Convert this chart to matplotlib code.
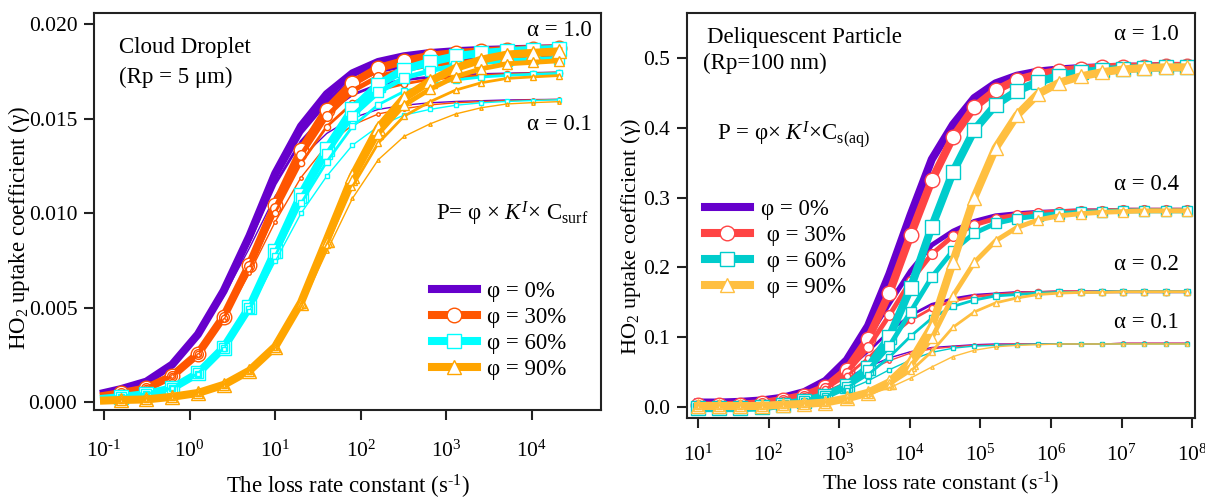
import numpy as np
import matplotlib.pyplot as plt

plt.rcParams['font.family'] = ['Liberation Serif', 'DejaVu Serif']
plt.rcParams['mathtext.fontset'] = 'custom'
plt.rcParams['mathtext.rm'] = 'Liberation Serif'
plt.rcParams['mathtext.it'] = 'Liberation Serif:italic'
plt.rcParams['mathtext.bf'] = 'Liberation Serif:bold'

# ---------------- cloud droplet (left) ----------------
x_cd = [0.1, 0.15625, 0.3125, 0.625, 1.25, 2.5, 5, 10, 20, 40, 80, 160, 320, 640,
        1280, 2560, 5120, 10240, 20480]

cd_p0_a10 = [0.00050, 0.00070, 0.00110, 0.00200, 0.00360, 0.00590, 0.00880, 0.01210, 0.01460, 0.01630,
             0.01740, 0.01800, 0.01830, 0.01847, 0.01857, 0.01863, 0.01867, 0.01870, 0.01872]
cd_p0_a04 = [0.00050, 0.00070, 0.00110, 0.00199, 0.00358, 0.00585, 0.00869, 0.01189, 0.01429, 0.01591,
             0.01696, 0.01753, 0.01781, 0.01797, 0.01807, 0.01812, 0.01816, 0.01819, 0.01821]
cd_p0_a02 = [0.00050, 0.00070, 0.00110, 0.00198, 0.00355, 0.00576, 0.00850, 0.01154, 0.01380, 0.01530,
             0.01627, 0.01679, 0.01705, 0.01720, 0.01729, 0.01734, 0.01737, 0.01740, 0.01742]
cd_p0_a01 = [0.00050, 0.00070, 0.00109, 0.00197, 0.00349, 0.00560, 0.00816, 0.01091, 0.01291, 0.01422,
             0.01504, 0.01549, 0.01571, 0.01584, 0.01591, 0.01595, 0.01599, 0.01601, 0.01602]

cd_p30_a10 = [0.00035, 0.00049, 0.00075, 0.00140, 0.00257, 0.00454, 0.00728, 0.01045, 0.01332, 0.01548,
              0.01689, 0.01768, 0.01805, 0.01833, 0.01847, 0.01856, 0.01863, 0.01868, 0.01872]
cd_p30_a04 = [0.00035, 0.00049, 0.00075, 0.00140, 0.00256, 0.00451, 0.00720, 0.01029, 0.01306, 0.01513,
              0.01647, 0.01722, 0.01758, 0.01784, 0.01797, 0.01806, 0.01812, 0.01817, 0.01821]
cd_p30_a02 = [0.00035, 0.00049, 0.00075, 0.00139, 0.00254, 0.00446, 0.00707, 0.01003, 0.01265, 0.01458,
              0.01582, 0.01651, 0.01684, 0.01708, 0.01720, 0.01728, 0.01734, 0.01738, 0.01742]
cd_p30_a01 = [0.00035, 0.00049, 0.00075, 0.00138, 0.00251, 0.00436, 0.00683, 0.00955, 0.01189, 0.01359,
              0.01466, 0.01525, 0.01553, 0.01573, 0.01584, 0.01590, 0.01595, 0.01599, 0.01602]

cd_p60_a10 = [0.00020, 0.00028, 0.00045, 0.00075, 0.00154, 0.00290, 0.00504, 0.00800, 0.01098, 0.01340,
              0.01550, 0.01680, 0.01760, 0.01800, 0.01830, 0.01847, 0.01857, 0.01864, 0.01869]
cd_p60_a04 = [0.00020, 0.00028, 0.00045, 0.00075, 0.00154, 0.00289, 0.00500, 0.00791, 0.01080, 0.01314,
              0.01515, 0.01639, 0.01715, 0.01753, 0.01781, 0.01797, 0.01807, 0.01813, 0.01818]
cd_p60_a02 = [0.00020, 0.00028, 0.00045, 0.00075, 0.00153, 0.00287, 0.00494, 0.00775, 0.01052, 0.01272,
              0.01459, 0.01574, 0.01644, 0.01679, 0.01705, 0.01720, 0.01729, 0.01735, 0.01739]
cd_p60_a01 = [0.00020, 0.00028, 0.00045, 0.00075, 0.00152, 0.00283, 0.00482, 0.00746, 0.00999, 0.01196,
              0.01360, 0.01459, 0.01519, 0.01549, 0.01571, 0.01584, 0.01591, 0.01596, 0.01600]

cd_p90_a10 = [0.00010, 0.00013, 0.00016, 0.00030, 0.00050, 0.00093, 0.00168, 0.00295, 0.00528, 0.00860,
              0.01195, 0.01451, 0.01610, 0.01697, 0.01768, 0.01812, 0.01839, 0.01848, 0.01856]
cd_p90_a04 = [0.00010, 0.00013, 0.00016, 0.00030, 0.00050, 0.00093, 0.00168, 0.00294, 0.00524, 0.00849,
              0.01174, 0.01420, 0.01572, 0.01655, 0.01722, 0.01764, 0.01790, 0.01798, 0.01806]
cd_p90_a02 = [0.00010, 0.00013, 0.00016, 0.00030, 0.00050, 0.00093, 0.00167, 0.00292, 0.00517, 0.00831,
              0.01141, 0.01371, 0.01513, 0.01589, 0.01651, 0.01690, 0.01713, 0.01721, 0.01728]
cd_p90_a01 = [0.00010, 0.00013, 0.00016, 0.00030, 0.00050, 0.00092, 0.00166, 0.00287, 0.00504, 0.00798,
              0.01079, 0.01283, 0.01406, 0.01472, 0.01525, 0.01558, 0.01578, 0.01585, 0.01590]

# ---------------- deliquescent particle (right) ----------------
x_dp = [10, 20, 40, 80, 160, 320, 640, 1280, 2560, 5120, 10240, 20480, 40960, 81920, 163840,
        327680, 655360, 1310720, 2621440, 5242880, 10485760, 20971520, 41943040, 83886080]

dp_p0_a10 = [0.006, 0.006, 0.007, 0.009, 0.013, 0.021, 0.037, 0.067, 0.116, 0.190, 0.275, 0.355,
             0.405, 0.443, 0.464, 0.475, 0.481, 0.484, 0.486, 0.487, 0.488, 0.488, 0.489, 0.489]
dp_p0_a04 = [0.006, 0.006, 0.007, 0.009, 0.013, 0.020, 0.035, 0.061, 0.099, 0.148, 0.195, 0.232,
             0.252, 0.266, 0.274, 0.277, 0.279, 0.280, 0.281, 0.281, 0.282, 0.282, 0.282, 0.282]
dp_p0_a02 = [0.006, 0.006, 0.007, 0.009, 0.012, 0.019, 0.032, 0.053, 0.079, 0.108, 0.131, 0.147,
             0.155, 0.160, 0.162, 0.164, 0.164, 0.165, 0.165, 0.165, 0.165, 0.165, 0.165, 0.165]
dp_p0_a01 = [0.006, 0.006, 0.007, 0.008, 0.012, 0.018, 0.028, 0.042, 0.057, 0.070, 0.079, 0.085,
             0.087, 0.089, 0.090, 0.090, 0.090, 0.090, 0.090, 0.090, 0.091, 0.091, 0.091, 0.091]

dp_p30_a10 = [0.002, 0.002, 0.003, 0.005, 0.010, 0.016, 0.028, 0.053, 0.097, 0.163, 0.246, 0.325,
              0.387, 0.430, 0.454, 0.469, 0.477, 0.482, 0.485, 0.487, 0.488, 0.488, 0.489, 0.489]
dp_p30_a04 = [0.002, 0.002, 0.003, 0.005, 0.010, 0.016, 0.027, 0.049, 0.085, 0.131, 0.180, 0.219,
              0.245, 0.261, 0.270, 0.275, 0.278, 0.280, 0.281, 0.281, 0.282, 0.282, 0.282, 0.282]
dp_p30_a02 = [0.002, 0.002, 0.003, 0.005, 0.010, 0.015, 0.025, 0.044, 0.070, 0.099, 0.124, 0.141,
              0.152, 0.158, 0.161, 0.163, 0.164, 0.165, 0.165, 0.165, 0.165, 0.165, 0.165, 0.165]
dp_p30_a01 = [0.002, 0.002, 0.003, 0.005, 0.009, 0.014, 0.022, 0.036, 0.052, 0.066, 0.077, 0.083,
              0.086, 0.088, 0.089, 0.090, 0.090, 0.090, 0.090, 0.090, 0.091, 0.091, 0.091, 0.091]

dp_p60_a10 = [-0.002, -0.002, -0.002, -0.001, 0.003, 0.008, 0.016, 0.030, 0.056, 0.100, 0.170, 0.258,
              0.337, 0.397, 0.433, 0.453, 0.466, 0.475, 0.480, 0.483, 0.485, 0.486, 0.487, 0.487]
dp_p60_a04 = [-0.002, -0.002, -0.002, -0.001, 0.003, 0.008, 0.016, 0.029, 0.052, 0.087, 0.136, 0.186,
              0.224, 0.249, 0.263, 0.270, 0.274, 0.277, 0.279, 0.280, 0.281, 0.281, 0.281, 0.281]
dp_p60_a02 = [-0.002, -0.002, -0.002, -0.001, 0.003, 0.008, 0.015, 0.027, 0.046, 0.071, 0.101, 0.127,
              0.144, 0.153, 0.159, 0.161, 0.163, 0.164, 0.164, 0.165, 0.165, 0.165, 0.165, 0.165]
dp_p60_a01 = [-0.002, -0.002, -0.002, -0.001, 0.003, 0.007, 0.014, 0.024, 0.037, 0.053, 0.067, 0.078,
              0.084, 0.087, 0.088, 0.089, 0.090, 0.090, 0.090, 0.090, 0.090, 0.090, 0.090, 0.090]

dp_p90_a10 = [0.001, 0.001, 0.001, 0.001, 0.003, 0.004, 0.006, 0.012, 0.020, 0.035, 0.064, 0.115,
              0.208, 0.300, 0.371, 0.418, 0.449, 0.465, 0.474, 0.480, 0.484, 0.486, 0.487, 0.487]
dp_p90_a04 = [0.001, 0.001, 0.001, 0.001, 0.003, 0.004, 0.006, 0.012, 0.019, 0.033, 0.058, 0.098,
              0.159, 0.207, 0.238, 0.257, 0.268, 0.274, 0.277, 0.279, 0.280, 0.281, 0.281, 0.281]
dp_p90_a02 = [0.001, 0.001, 0.001, 0.001, 0.003, 0.004, 0.006, 0.011, 0.019, 0.031, 0.051, 0.079,
              0.114, 0.136, 0.149, 0.156, 0.161, 0.163, 0.164, 0.164, 0.165, 0.165, 0.165, 0.165]
dp_p90_a01 = [0.001, 0.001, 0.001, 0.001, 0.003, 0.004, 0.006, 0.011, 0.017, 0.027, 0.041, 0.057,
              0.072, 0.081, 0.086, 0.088, 0.089, 0.090, 0.090, 0.090, 0.090, 0.090, 0.090, 0.090]

phi_labels = ['φ = 0%', 'φ = 30%', 'φ = 60%', 'φ = 90%']
markers = [None, 'o', 's', '^']
cd_colors = ['#6600CC', '#FF5500', '#00FFFF', '#FFA500']
dp_colors = ['#6600CC', '#FF4444', '#00CCCC', '#FFBF40']
line_w = [5.8, 3.5, 2.0, 1.0]
mark_s = [10.5, 7, 4.5, 2.5]

cd_sets = [[cd_p0_a10, cd_p0_a04, cd_p0_a02, cd_p0_a01],
           [cd_p30_a10, cd_p30_a04, cd_p30_a02, cd_p30_a01],
           [cd_p60_a10, cd_p60_a04, cd_p60_a02, cd_p60_a01],
           [cd_p90_a10, cd_p90_a04, cd_p90_a02, cd_p90_a01]]
dp_sets = [[dp_p0_a10, dp_p0_a04, dp_p0_a02, dp_p0_a01],
           [dp_p30_a10, dp_p30_a04, dp_p30_a02, dp_p30_a01],
           [dp_p60_a10, dp_p60_a04, dp_p60_a02, dp_p60_a01],
           [dp_p90_a10, dp_p90_a04, dp_p90_a02, dp_p90_a01]]

fig = plt.figure(figsize=(12.05, 5.01), dpi=100)
ax1 = fig.add_axes([0.078, 0.1816, 0.4207, 0.7918])
ax2 = fig.add_axes([0.5701, 0.1651, 0.4216, 0.8084])


def draw(ax, x, sets, colors, every):
    for i in range(4):
        for j in range(4):
            ax.plot(x, sets[i][j], color=colors[i], lw=line_w[j], marker=markers[i],
                    ms=mark_s[j], mfc='white', mec=colors[i], mew=1.0, markevery=every,
                    solid_joinstyle='round', label=phi_labels[i] if j == 0 else None)


draw(ax1, x_cd, cd_sets, cd_colors, slice(1, None))
draw(ax2, x_dp, dp_sets, dp_colors, None)

for ax in (ax1, ax2):
    ax.set_xscale('log')
    for s in ax.spines.values():
        s.set_linewidth(1.5)
        s.set_color('#222222')
    ax.tick_params(direction='out', length=7, width=1.5, labelsize=15.5, color='#222222')
    ax.tick_params(axis='x', pad=15)
    ax.tick_params(axis='y', pad=5)
    ax.minorticks_off()

ax1.set_xlim(10 ** -1.117, 10 ** 4.806)
ax1.set_ylim(-0.0004, 0.02057)
ax1.set_xticks([0.1, 1, 10, 100, 1000, 10000])
ax1.set_xticklabels([r'$10^{\text{-}1}$', '$10^{0}$', '$10^{1}$', '$10^{2}$', '$10^{3}$', '$10^{4}$'])
ax1.set_yticks([0, 0.005, 0.010, 0.015, 0.020])
ax1.set_yticklabels(['0.000', '0.005', '0.010', '0.015', '0.020'])

ax2.set_xlim(10 ** 0.844, 10 ** 8.04)
ax2.set_ylim(-0.0166, 0.5646)
ax2.set_xticks([10 ** k for k in range(1, 9)])
ax2.set_xticklabels(['$10^{%d}$' % k for k in range(1, 9)])
ax2.tick_params(axis='x', pad=12)
ax2.set_yticks([0, 0.1, 0.2, 0.3, 0.4, 0.5])
ax2.set_yticklabels(['0.0', '0.1', '0.2', '0.3', '0.4', '0.5'])

ax1.set_xlabel(r'The loss rate constant (s$^{\text{-}1}$)', fontsize=16.5, labelpad=8)
ax2.set_xlabel(r'The loss rate constant (s$^{\text{-}1}$)', fontsize=16, labelpad=3)
ax1.set_ylabel('HO$_2$ uptake coefficient (γ)', fontsize=16.5)
ax2.set_ylabel('HO$_2$ uptake coefficient (γ)', fontsize=16)
ax1.yaxis.set_label_coords(-0.122, 0.46)
ax2.yaxis.set_label_coords(-0.086, 0.45)

ax1.legend(loc='upper left', bbox_to_anchor=(0.3585, 0.439), bbox_transform=fig.transFigure,
           frameon=False, fontsize=16.5, handlelength=1.95, handletextpad=0.45, labelspacing=0.22,
           borderpad=0, borderaxespad=0, numpoints=1)
h2 = ax2.get_legend_handles_labels()[0]
ax2.legend(h2, ['φ = 0%', ' φ = 30%', ' φ = 60%', ' φ = 90%'], loc='upper left',
           bbox_to_anchor=(0.585, 0.603), bbox_transform=fig.transFigure,
           frameon=False, fontsize=16.5, handlelength=1.95, handletextpad=0.5, labelspacing=0.22,
           borderpad=0, borderaxespad=0, numpoints=1)


def ftext(px, py, s, **kw):
    fig.text(px / 1205, 1 - py / 501, s, fontsize=16.5, va='center', **kw)


ftext(119, 48, 'Cloud Droplet')
ftext(119, 77, '(Rp = 5 μm)')
ftext(527, 31, 'α = 1.0')
ftext(527, 125, 'α = 0.1')
ftext(436, 214, r'P= φ × $K^{I}$× C$_{\mathrm{surf}}$')

ftext(707, 37, 'Deliquescent Particle')
ftext(703, 63, '(Rp=100 nm)')
ftext(717, 135, r'P = φ× $K^{I}$×C$_{\mathrm{s(aq)}}$')
ftext(1114, 34, 'α = 1.0')
ftext(1114, 185, 'α = 0.4')
ftext(1114, 265, 'α = 0.2')
ftext(1114, 322, 'α = 0.1')

fig.savefig('out.png', dpi=100)
